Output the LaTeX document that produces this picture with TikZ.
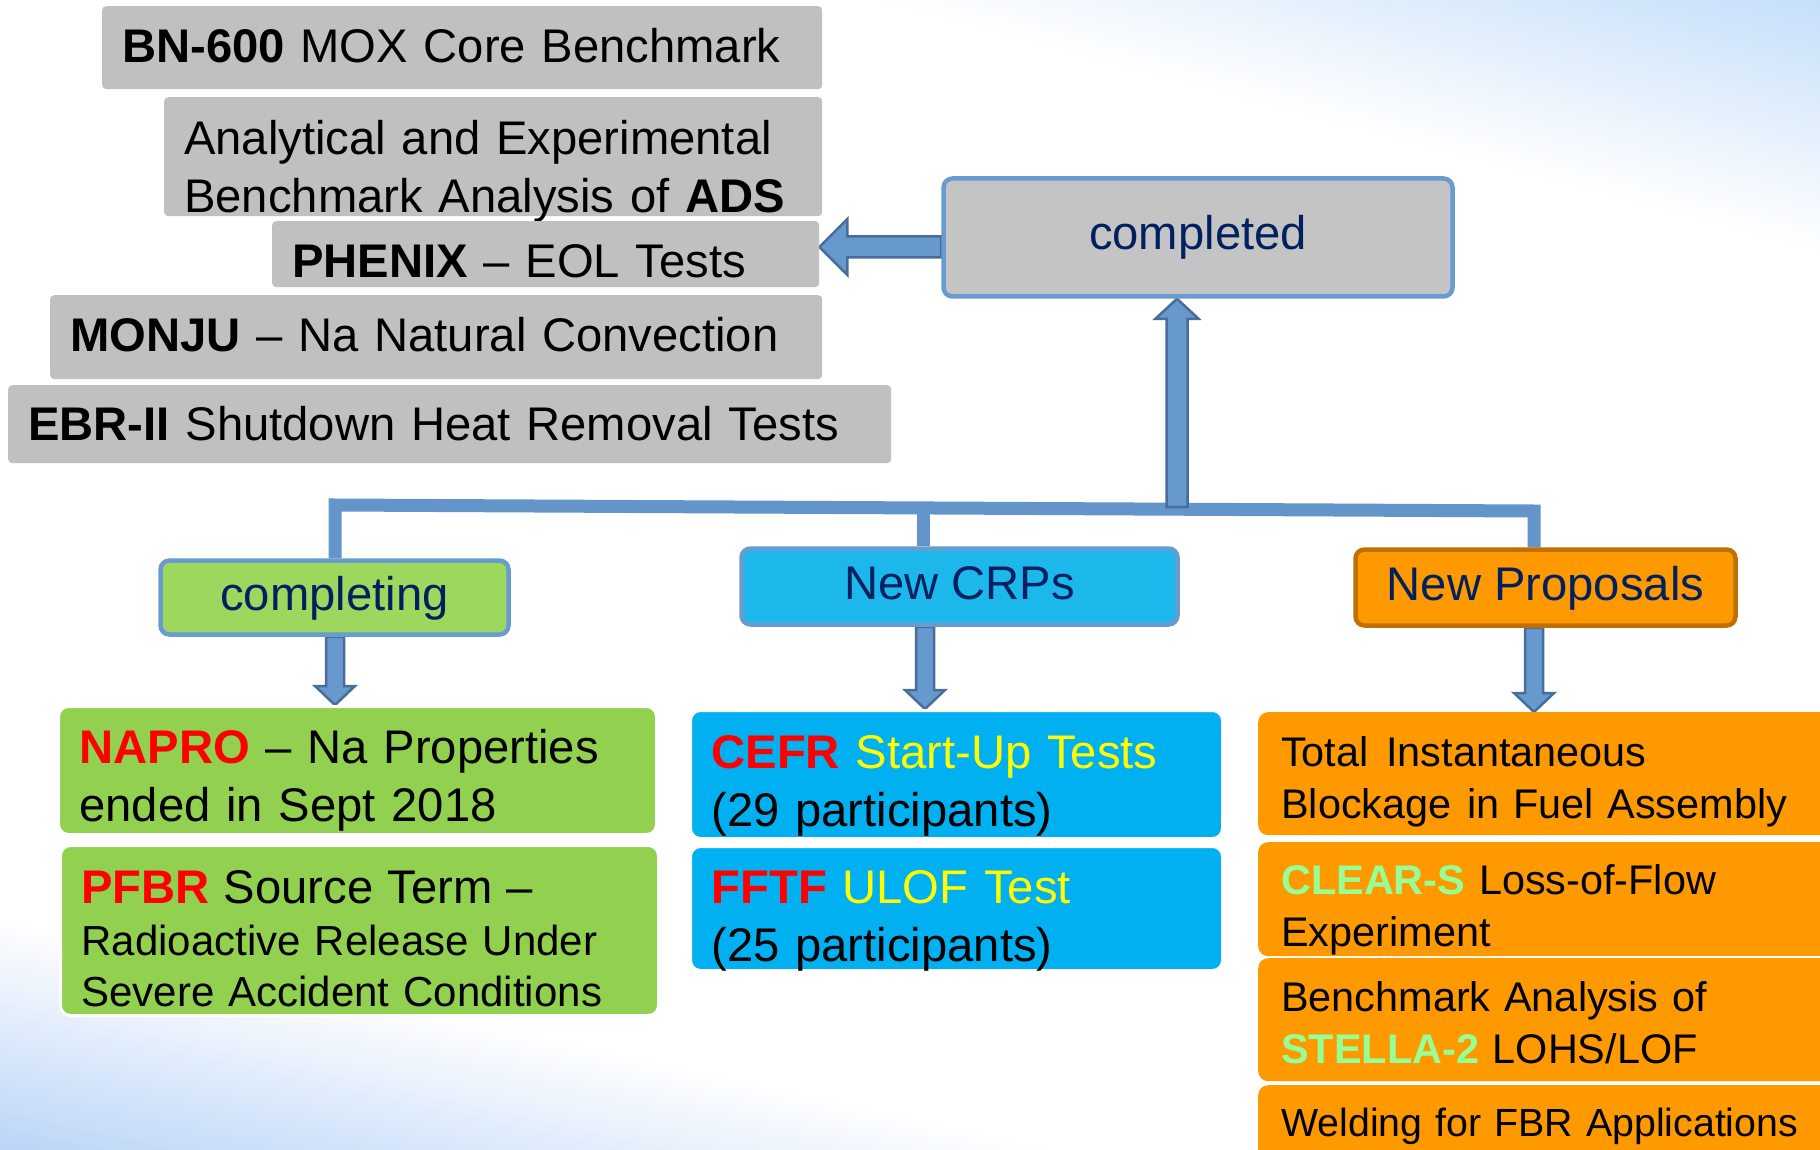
\documentclass[tikz,border=0pt]{standalone}
\usepackage{fontspec}
\setmainfont{Liberation Sans}
\usetikzlibrary{calc,backgrounds}

\definecolor{greyfill}{RGB}{192,192,192}
\definecolor{greyhead}{RGB}{196,196,196}
\definecolor{borderblue}{RGB}{104,155,207}
\definecolor{treeblue}{RGB}{99,149,202}
\definecolor{arrowfill}{RGB}{103,153,207}
\definecolor{arrowline}{RGB}{72,110,152}
\definecolor{greenfill}{RGB}{146,208,80}
\definecolor{greenhead}{RGB}{157,215,94}
\definecolor{bluefill}{RGB}{0,176,240}
\definecolor{bluehead}{RGB}{28,184,236}
\definecolor{orangefill}{RGB}{255,153,0}
\definecolor{orangedark}{RGB}{192,112,0}
\definecolor{navy}{RGB}{0,32,96}
\definecolor{cred}{RGB}{255,0,0}
\definecolor{cyellow}{RGB}{255,255,0}
\definecolor{cgreen}{RGB}{150,255,150}
\definecolor{bgblueA}{RGB}{183,211,247}
\definecolor{bgblueB}{RGB}{196,222,250}

\newcommand\fsA{\fontsize{47.2pt}{57.5pt}\selectfont}
\newcommand\fsAl{\fontsize{47.2pt}{58pt}\selectfont}
\newcommand\fsB{\fontsize{41.4pt}{52pt}\selectfont}
\newcommand\fsP{\fontsize{42pt}{51.5pt}\selectfont}
\newcommand\fsW{\fontsize{39.3pt}{48pt}\selectfont}

% vertical down block arrow: x, source anchor, target anchor
\newcommand\vdarrow[3]{%
  \draw[barrow] let \p1=(#2 -| #1,0), \p2=(#3 -| #1,0) in
    (\x1-9pt,\y1) -- (\x1-9pt,\y2+19pt) -- (\x1-20pt,\y2+19pt) -- (\x1,\y2)
    -- (\x1+20pt,\y2+19pt) -- (\x1+9pt,\y2+19pt) -- (\x1+9pt,\y1) -- cycle;}

\begin{document}
\begin{tikzpicture}[x=1pt,y=-1pt,
  gbox/.style={fill=greyfill, rounded corners=4pt, anchor=north west, inner xsep=20pt, inner ysep=0pt, align=left, font=\fsA, text=black},
  hdr/.style={rounded corners=9pt, line width=4.5pt, font=\fsA, text=navy, inner sep=0pt, text height=35pt, text depth=10pt, anchor=center},
  cbox/.style={rounded corners=10pt, anchor=north west, inner xsep=21pt, inner ysep=0pt, align=left, text=black},
  wbox/.style={cbox, draw=white, line width=3pt},
  obox/.style={cbox, fill=orangefill, inner xsep=23pt, text width=554pt, font=\fsB},
  treeline/.style={draw=treeblue, line width=13pt, line join=miter, line cap=butt},
  barrow/.style={fill=arrowfill, draw=arrowline, line width=2.5pt, line join=miter}]

\useasboundingbox (0,0) rectangle (1820,1150);

% completed list (grey)
\node[gbox, text width=680pt, text height=56pt, text depth=27pt] (bn) at (102,6)
  {\mbox{\textbf{BN-600} MOX Core Benchmark}};
\node[gbox, font=\fsAl, text width=618pt, text height=57pt, text depth=62pt] (ads) at (164,97)
  {\mbox{Analytical and Experimental}\\\mbox{Benchmark Analysis of \textbf{ADS}}};
\node[gbox, text width=507pt, text height=56pt, text depth=10pt] (phenix) at (272,221)
  {\mbox{\textbf{PHENIX} – EOL Tests}};
\node[gbox, text width=732pt, text height=56pt, text depth=28pt] (monju) at (50,295)
  {\mbox{\textbf{MONJU} – Na Natural Convection}};
\node[gbox, text width=843pt, text height=55pt, text depth=23pt] (ebr) at (8,385)
  {\mbox{\textbf{EBR-II} Shutdown Heat Removal Tests}};

% headers
\node[hdr, fill=greyhead, draw=borderblue, minimum width=509pt, minimum height=118pt] (completed) at (1198,237.5) {completed};
\node[hdr, fill=greenhead, draw=borderblue, minimum width=348pt, minimum height=74pt] (completing) at (334.5,597.5) {completing};
\node[hdr, fill=bluehead, draw=borderblue, minimum width=436pt, minimum height=76pt] (crps) at (959.5,586.5) {New CRPs};
\node[hdr, fill=orangefill, draw=orangedark, minimum width=380pt, minimum height=76pt] (np) at (1545.5,587.5) {New Proposals};

% completing (green)
\node[wbox, fill=greenfill, font=\fsA, text width=556pt, text height=57pt, text depth=71pt] (napro) at (57,705)
  {\mbox{\textcolor{cred}{\textbf{NAPRO}} – Na Properties}\\\mbox{ended in Sept 2018}};
\node[wbox, fill=greenfill, font=\fsP, text width=556pt, text height=58pt, text depth=112pt] (pfbr) at (59,844)
  {\mbox{\fsA\textcolor{cred}{\textbf{PFBR}} Source Term –}\\\mbox{Radioactive Release Under}\\\mbox{Severe Accident Conditions}};

% new CRPs (blue)
\node[wbox, fill=bluefill, font=\fsA, text width=490pt, text height=58pt, text depth=70pt] (cefr) at (689,709)
  {\mbox{\textcolor{cred}{\textbf{CEFR}} \textcolor{cyellow}{Start-Up Tests}}\\\mbox{(29 participants)}};
\node[wbox, fill=bluefill, font=\fsA, text width=490pt, text height=57pt, text depth=67pt] (fftf) at (689,845)
  {\mbox{\textcolor{cred}{\textbf{FFTF}} \textcolor{cyellow}{ULOF Test}}\\\mbox{(25 participants)}};

% new proposals (orange)
\node[obox, text height=54pt, text depth=69pt] (tib) at (1258,712)
  {\mbox{Total\hspace{4pt} Instantaneous}\\\mbox{Blockage\hspace{2pt} in Fuel Assembly}};
\node[obox, text height=52pt, text depth=62pt] (clear) at (1258,842)
  {\mbox{\textcolor{cgreen}{\textbf{CLEAR-S}} Loss-of-Flow}\\\mbox{Experiment}};
\node[obox, text height=53pt, text depth=70pt] (stella) at (1258,958)
  {\mbox{Benchmark Analysis of}\\\mbox{\textcolor{cgreen}{\textbf{STELLA-2}} LOHS/LOF}};
\node[obox, font=\fsW, text height=51pt, text depth=60pt] (weld) at (1258,1085)
  {\mbox{Welding for FBR Applications}};

\begin{scope}[on background layer]
  \clip (0,0) rectangle (1820,1150);
  \fill[white] (0,0) rectangle (1820,1150);
  % top-right gradient (bands)
  \begin{scope}[shift={(880,0)}, rotate=-14.9]
    \foreach \i [evaluate=\i as \pc using (\i+1)*2] in {0,...,49}
      \fill[bgblueB!\pc!white] (-200,-\i*5) rectangle (1300,-260);
  \end{scope}
  % bottom-left gradient (bands)
  \begin{scope}[shift={(0,920)}, rotate=-12.36]
    \foreach \i [evaluate=\i as \pc using (\i+1)*2] in {0,...,49}
      \fill[bgblueA!\pc!white] (-100,\i*4.8) rectangle (1300,250);
  \end{scope}

  \coordinate (jl) at (335,505);
  \coordinate (jr) at (1534,511);
  \coordinate (jm) at (923,508);
  \coordinate (ju) at (1177,507);

  \draw[treeline] (completing.north -| jl) -- (jl) -- (jr) -- (np.north -| jr);
  \draw[treeline] (jm) -- (crps.north -| jm);

  % up arrow to completed
  \draw[barrow] let \p1=(ju), \p2=(completed.south -| ju) in
    (\x1-10.5pt,\y1) -- (\x1-10.5pt,\y2-20pt) -- (\x1-21.5pt,\y2-20pt) -- (\x1,\y2)
    -- (\x1+21.5pt,\y2-20pt) -- (\x1+10.5pt,\y2-20pt) -- (\x1+10.5pt,\y1) -- cycle;

  % left arrow completed -> list
  \draw[barrow] let \p1=(completed.west |- 0,247), \p2=(phenix.east |- 0,247) in
    (\x1,\y1+10.5pt) -- (\x2+28pt,\y1+10.5pt) -- (\x2+28pt,\y1+28pt) -- (\x2,\y1)
    -- (\x2+28pt,\y1-28pt) -- (\x2+28pt,\y1-10.5pt) -- (\x1,\y1-10.5pt) -- cycle;

  % down arrows
  \vdarrow{335}{completing.south}{napro.north}
  \vdarrow{925}{crps.south}{cefr.north}
  \vdarrow{1534}{np.south}{tib.north}
\end{scope}
\end{tikzpicture}
\end{document}
